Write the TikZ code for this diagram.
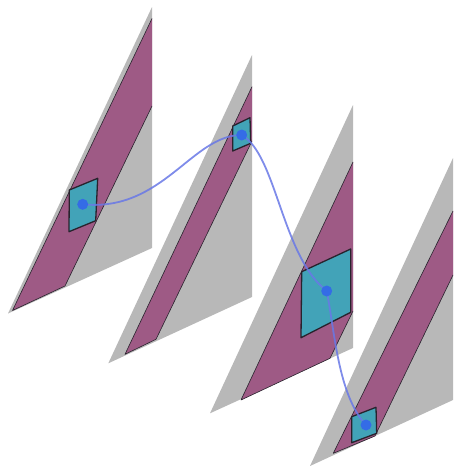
\documentclass[tikz,border=0pt]{standalone}
\definecolor{planegray}{RGB}{184,184,184}
\definecolor{bandpurple}{RGB}{158,90,133}
\definecolor{patchcyan}{RGB}{66,163,184}
\definecolor{edgedark}{RGB}{40,35,45}
\definecolor{dotblue}{RGB}{52,108,230}
\definecolor{linkblue}{RGB}{105,120,230}

\begin{document}
\begin{tikzpicture}[x=1pt, y=-1pt,
        plane/.style={fill=planegray},
        band/.style={fill=bandpurple},
        bandedge/.style={draw=edgedark, line width=0.6pt, line join=round},
        patch/.style={fill=patchcyan, draw=edgedark, line width=1.3pt, line join=round},
        spot/.style={fill=dotblue},
        link/.style={draw=linkblue, line width=1.8pt, opacity=0.85}]
    \useasboundingbox (0, 0) rectangle (462, 471);
    %\draw[lightgray] (0, 0) grid[step=50] (462, 471);

    % first plane
    \fill[plane] (152, 7) -- (152, 248) -- (8, 313.5) -- cycle;
    \fill[band] (152, 18.5) -- (152, 106) -- (65, 286) -- (12.5, 310.5) -- cycle;
    \draw[bandedge] (152, 106) -- (65, 286) -- (12.5, 310.5) -- (152, 18.5);
    \draw[patch] (69.3, 190) -- (97.7, 178.3) -- (95.7, 220.7) -- (69, 231.7) -- cycle;
    \coordinate (p1) at (82.7, 204.3);

    % second plane
    \fill[plane] (252, 55) -- (252, 297) -- (108.3, 363.3) -- cycle;
    \fill[band] (252, 86.7) -- (252, 141) -- (156, 339.3) -- (125, 354.3) -- cycle;
    \draw[bandedge] (252, 141) -- (156, 339.3) -- (125, 354.3) -- (252, 86.7);
    \draw[patch] (232.7, 126) -- (250, 117.7) -- (250.7, 143.3) -- (232.7, 151) -- cycle;
    \coordinate (p2) at (241.7, 135);

    % third plane
    \fill[plane] (353, 105) -- (353, 348) -- (210, 413.3) -- cycle;
    \fill[band] (353, 162) -- (353, 311) -- (330, 358.3) -- (241, 400) -- cycle;
    \draw[bandedge] (353, 311) -- (330, 358.3) -- (241, 400) -- (353, 162);
    \draw[patch] (301.7, 271.7) -- (350.7, 249) -- (350.7, 312.3) -- (301, 337.7) -- cycle;
    \coordinate (p3) at (326.7, 291);

    % fourth plane
    \fill[plane] (453, 158) -- (453, 400) -- (310, 466) -- cycle;
    \fill[band] (453, 211) -- (453, 275) -- (375, 436) -- (333.3, 453.3) -- cycle;
    \draw[bandedge] (453, 275) -- (375, 436) -- (333.3, 453.3) -- (453, 211);
    \draw[patch] (351.7, 416.7) -- (376, 407.3) -- (376.7, 433.3) -- (351.7, 442.7) -- cycle;
    \coordinate (p4) at (366, 425);

    % path through the patches
    \draw[link] (p1) .. controls +(80, 8) and +(-50, 0) .. (p2)
        .. controls +(35, 20) and +(-45, -35) .. (p3)
        .. controls +(8, 40) and +(-28, -30) .. (p4);
    \foreach \p in {p1, p2, p3, p4}
        \fill[spot] (\p) circle (5.5);
\end{tikzpicture}
\end{document}
